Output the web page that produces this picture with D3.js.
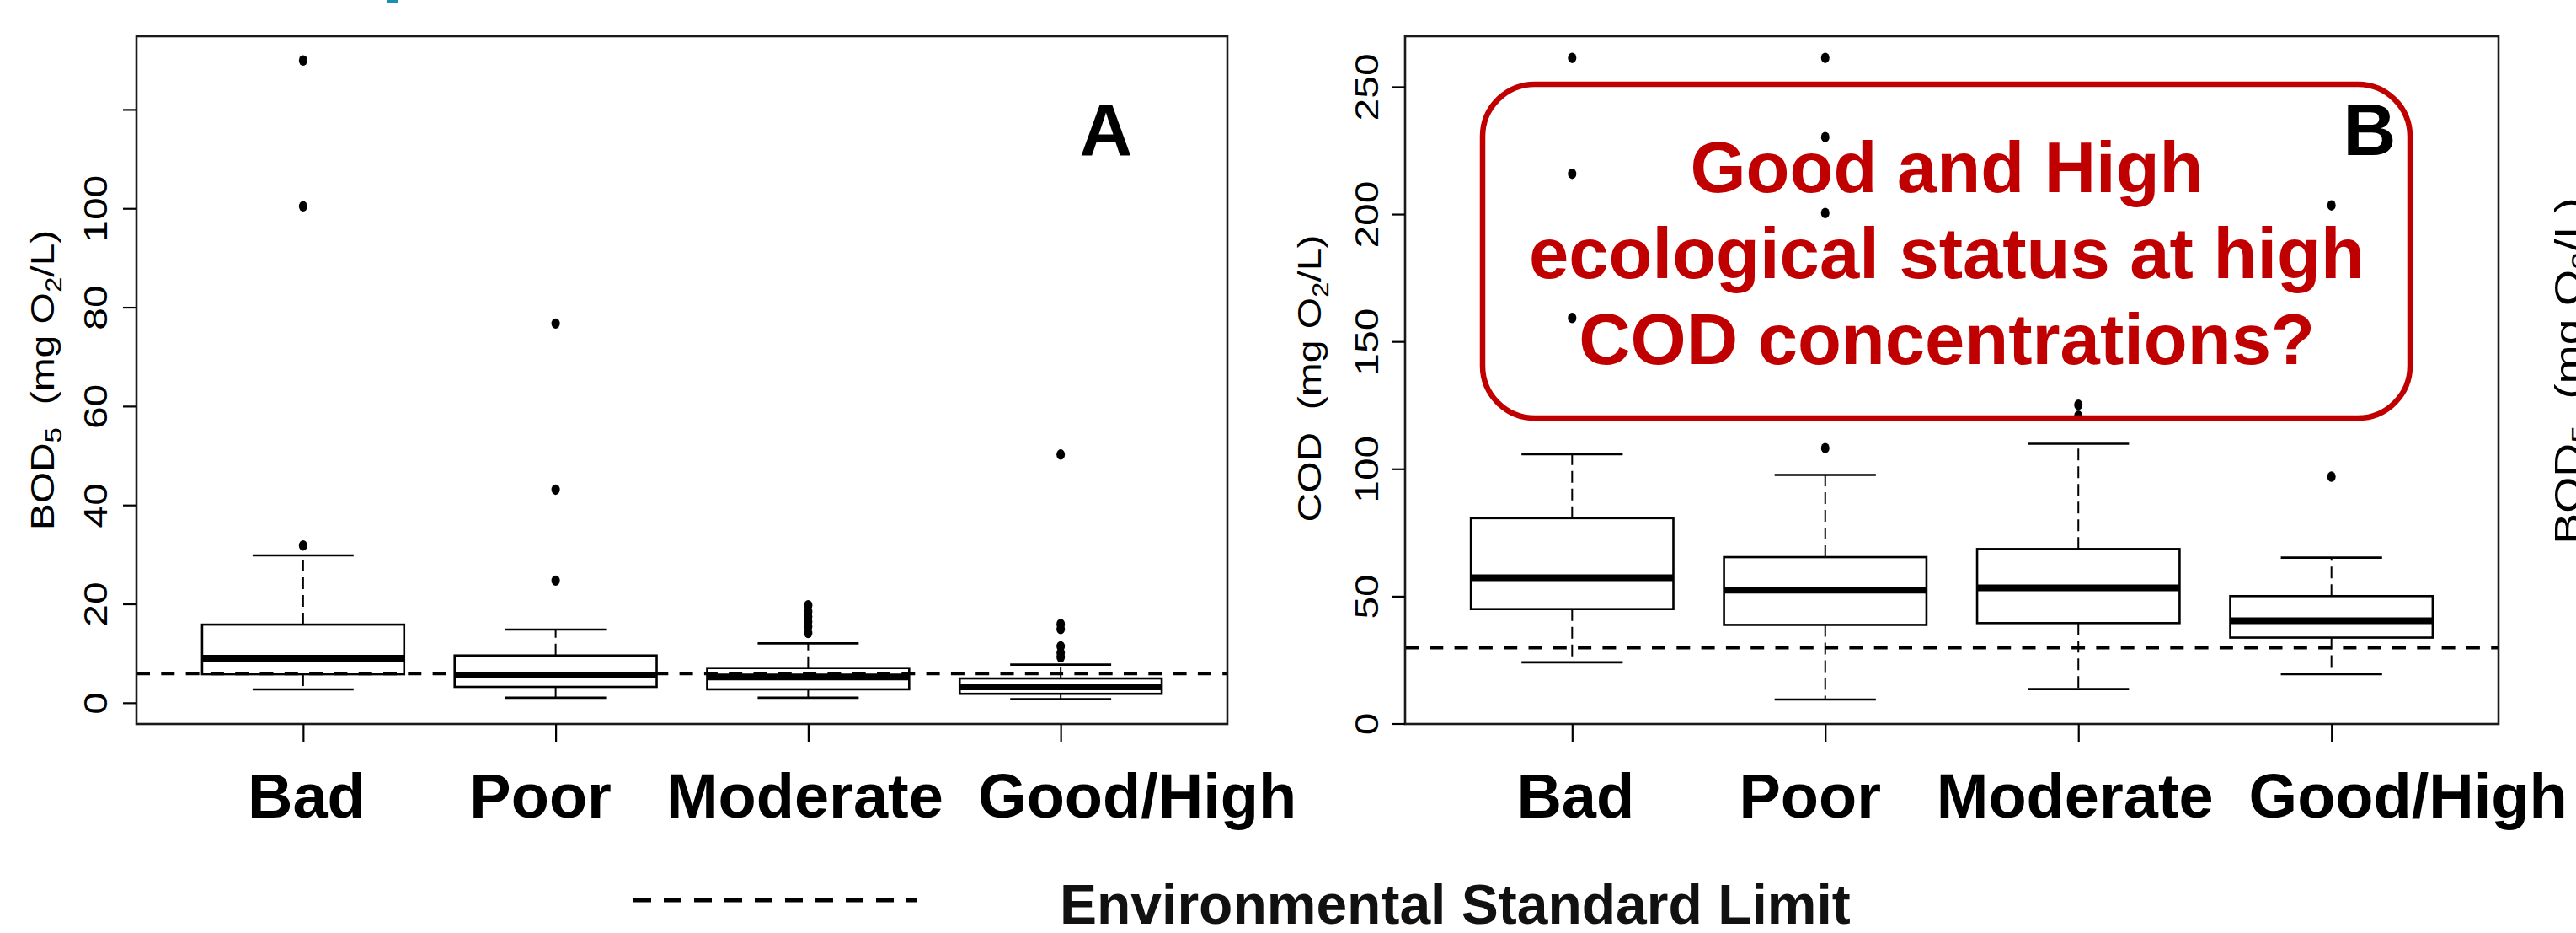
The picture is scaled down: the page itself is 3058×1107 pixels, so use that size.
<!DOCTYPE html>
<html>
<head>
<meta charset="utf-8">
<script src="https://cdn.jsdelivr.net/npm/d3@7"></script>
<style>
  html, body { margin: 0; padding: 0; background: #fff; }
  svg { display: block; }
</style>
</head>
<body>
<svg id="chart" width="3058" height="1107"></svg>
<script>
// ---------------- DATA ----------------
const categories = ["Bad", "Poor", "Moderate", "Good/High"];

// Panel A : BOD5 (mg O2/L)
const bodLowerWhisker = [2.8, 1.1, 1.1, 0.8];
const bodQ1           = [5.85, 3.3, 2.8, 1.9];
const bodMedian       = [9.1, 5.7, 5.3, 3.3];
const bodQ3           = [15.9, 9.65, 7.1, 5.0];
const bodUpperWhisker = [29.9, 14.9, 12.1, 7.8];
const bodOutliers     = [
  [31.9, 100.5, 130],
  [24.8, 43.2, 76.8],
  [14.2, 15.5, 16.5, 17.5, 18.5, 19.8],
  [9.3, 10.2, 11.5, 15.0, 16.0, 50.3]
];
const bodLimit = 6;
const bodTicks = [0, 20, 40, 60, 80, 100, 120];
const bodTickLabels = ["0", "20", "40", "60", "80", "100", ""];

// Panel B : COD (mg O2/L)
const codLowerWhisker = [24.2, 9.6, 13.7, 19.5];
const codQ1           = [45.1, 38.9, 39.6, 33.9];
const codMedian       = [57.4, 52.5, 53.4, 40.5];
const codQ3           = [80.8, 65.5, 68.7, 50.2];
const codUpperWhisker = [105.9, 97.8, 110.0, 65.3];
const codOutliers     = [
  [159.4, 216.0, 261.5],
  [108.3, 200.6, 230.4, 261.5],
  [121.0, 125.3],
  [97.1, 203.6]
];
const codLimit = 30;
const codTicks = [0, 50, 100, 150, 200, 250];
const codTickLabels = ["0", "50", "100", "150", "200", "250"];

const calloutLines = ["Good and High", "ecological status at high", "COD concentrations?"];
const legendLabel = "Environmental Standard Limit";

// ---------------- LAYOUT ----------------
const W = 3058, H = 1107;
const svg = d3.select("#chart");
const rFont = "'Liberation Sans', Arial, Helvetica, sans-serif";
const stretch = 1.23;          // R graphics were stretched vertically
const frameTop = 43, frameBottom = 859;
const labelNudge = [4, -18, -4, 91];

// small cyan fragment at the top (from a cropped title above)
svg.append("rect").attr("x", 459).attr("y", 0).attr("width", 13).attr("height", 3)
  .attr("fill", "#1b8fb3");

function drawPanel(cfg) {
  const g = svg.append("g");
  const x = d3.scaleLinear().domain([0.34, 4.66]).range([cfg.left, cfg.right]);
  const y = d3.scaleLinear().domain(cfg.domain).range([frameBottom, frameTop]);
  const unit = x(2) - x(1);
  const idx = categories.map((c, i) => i);

  // whiskers (dashed)
  g.selectAll(".wu").data(idx).join("line")
    .attr("x1", i => x(i + 1)).attr("x2", i => x(i + 1))
    .attr("y1", i => y(cfg.q3[i])).attr("y2", i => y(cfg.uw[i]))
    .attr("stroke", "#000").attr("stroke-width", 2).attr("stroke-dasharray", "14,7");
  g.selectAll(".wl").data(idx).join("line")
    .attr("x1", i => x(i + 1)).attr("x2", i => x(i + 1))
    .attr("y1", i => y(cfg.q1[i])).attr("y2", i => y(cfg.lw[i]))
    .attr("stroke", "#000").attr("stroke-width", 2).attr("stroke-dasharray", "14,7");
  // caps
  [cfg.uw, cfg.lw].forEach(arr => {
    g.selectAll(null).data(idx).join("line")
      .attr("x1", i => x(i + 1 - 0.2)).attr("x2", i => x(i + 1 + 0.2))
      .attr("y1", i => y(arr[i])).attr("y2", i => y(arr[i]))
      .attr("stroke", "#000").attr("stroke-width", 2.6);
  });
  // boxes
  g.selectAll(".box").data(idx).join("rect")
    .attr("x", i => x(i + 1 - 0.4)).attr("width", i => x(i + 1 + 0.4) - x(i + 1 - 0.4))
    .attr("y", i => y(cfg.q3[i])).attr("height", i => y(cfg.q1[i]) - y(cfg.q3[i]))
    .attr("fill", "#fff").attr("stroke", "#000").attr("stroke-width", 2.6);
  // medians
  g.selectAll(".med").data(idx).join("line")
    .attr("x1", i => x(i + 1 - 0.4)).attr("x2", i => x(i + 1 + 0.4))
    .attr("y1", i => y(cfg.med[i])).attr("y2", i => y(cfg.med[i]))
    .attr("stroke", "#000").attr("stroke-width", 8);
  // outliers
  const pts = [];
  cfg.out.forEach((arr, i) => arr.forEach(v => pts.push({ i, v })));
  g.selectAll(".out").data(pts).join("ellipse")
    .attr("cx", d => x(d.i + 1)).attr("cy", d => y(d.v))
    .attr("rx", 5).attr("ry", 6.2).attr("fill", "#000");
  // limit line
  g.append("line")
    .attr("x1", cfg.left).attr("x2", cfg.right)
    .attr("y1", y(cfg.limit)).attr("y2", y(cfg.limit))
    .attr("stroke", "#000").attr("stroke-width", 4.3).attr("stroke-dasharray", "16,13.3");
  // frame
  g.append("rect").attr("x", cfg.left).attr("y", frameTop)
    .attr("width", cfg.right - cfg.left).attr("height", frameBottom - frameTop)
    .attr("fill", "none").attr("stroke", "#1a1a1a").attr("stroke-width", 2.6);

  // y axis
  const ya = g.append("g").attr("transform", `translate(${cfg.left},0)`)
    .call(d3.axisLeft(y).tickValues(cfg.ticks).tickSize(16)
      .tickFormat((d, k) => cfg.tickLabels[k]));
  ya.select(".domain").remove();
  ya.selectAll(".tick line").attr("stroke", "#000").attr("stroke-width", 2.2);
  ya.selectAll(".tick").attr("transform", null);
  ya.selectAll(".tick line").attr("y1", d => y(d)).attr("y2", d => y(d));
  ya.selectAll(".tick text")
    .attr("x", null).attr("y", null).attr("dy", null)
    .attr("text-anchor", "middle")
    .attr("transform", d => `translate(${cfg.labelBase - cfg.left},${y(d)}) rotate(-90) scale(${stretch},1)`)
    .attr("font-family", rFont).attr("font-size", 39).attr("fill", "#000");

  // x axis ticks
  const xa = g.append("g").attr("transform", `translate(0,${frameBottom})`)
    .call(d3.axisBottom(x).tickValues([1, 2, 3, 4]).tickSize(21).tickFormat(""));
  xa.select(".domain").remove();
  xa.selectAll(".tick line").attr("stroke", "#000").attr("stroke-width", 2.2);

  // category labels
  g.selectAll(".cat").data(categories).join("text")
    .attr("x", (c, i) => x(i + 1) + labelNudge[i]).attr("y", 970)
    .attr("text-anchor", "middle")
    .attr("font-family", rFont).attr("font-weight", "bold").attr("font-size", 74)
    .attr("fill", "#000").text(c => c);

  // panel letter
  g.append("text").attr("x", cfg.letterX).attr("y", 184).attr("text-anchor", "middle")
    .attr("font-family", rFont).attr("font-weight", "bold").attr("font-size", 87)
    .attr("fill", "#000").text(cfg.letter);
}

function yTitle(first, base, cy, size) {
  const t = svg.append("text")
    .attr("transform", `translate(${base},${cy}) rotate(-90) scale(${stretch},1)`)
    .attr("text-anchor", "middle").attr("font-family", rFont)
    .attr("font-size", size).attr("fill", "#000");
  const sub = Math.round(size * 0.7), dd = Math.round(size * 0.24);
  t.append("tspan").text(first);
  if (first === "BOD") {
    t.append("tspan").attr("font-size", sub).attr("dy", dd).text("5");
    t.append("tspan").attr("dy", -dd).text("\u00a0\u00a0(mg O");
  } else {
    t.append("tspan").text("\u00a0\u00a0(mg O");
  }
  t.append("tspan").attr("font-size", sub).attr("dy", dd).text("2");
  t.append("tspan").attr("dy", -dd).text("/L)");
}

drawPanel({
  left: 162, right: 1457, domain: [-4.2, 134.9],
  lw: bodLowerWhisker, q1: bodQ1, med: bodMedian, q3: bodQ3, uw: bodUpperWhisker,
  out: bodOutliers, limit: bodLimit, ticks: bodTicks, tickLabels: bodTickLabels,
  labelBase: 127, letter: "A", letterX: 1313
});
drawPanel({
  left: 1668, right: 2966, domain: [0, 270],
  lw: codLowerWhisker, q1: codQ1, med: codMedian, q3: codQ3, uw: codUpperWhisker,
  out: codOutliers, limit: codLimit, ticks: codTicks, tickLabels: codTickLabels,
  labelBase: 1636, letter: "B", letterX: 2813
});

yTitle("BOD", 64, 451, 39);
yTitle("COD", 1568, 449, 39);
yTitle("BOD", 3064, 440, 45);

// callout box
svg.append("rect").attr("x", 1760).attr("y", 100).attr("width", 1101).attr("height", 396)
  .attr("rx", 62).attr("ry", 62)
  .attr("fill", "none").attr("stroke", "#C00000").attr("stroke-width", 6.5);
svg.selectAll(".callout").data(calloutLines).join("text")
  .attr("x", 2311).attr("y", (d, i) => 228 + i * 102)
  .attr("text-anchor", "middle").attr("font-family", rFont)
  .attr("font-weight", "bold").attr("font-size", 85).attr("fill", "#C00000")
  .text(d => d);

// legend
svg.append("line").attr("x1", 752).attr("x2", 1089).attr("y1", 1068).attr("y2", 1068)
  .attr("stroke", "#000").attr("stroke-width", 5).attr("stroke-dasharray", "21,15");
svg.append("text").attr("x", 1258).attr("y", 1096)
  .attr("font-family", rFont).attr("font-weight", "bold").attr("font-size", 66)
  .attr("fill", "#111").text(legendLabel);
</script>
</body>
</html>
